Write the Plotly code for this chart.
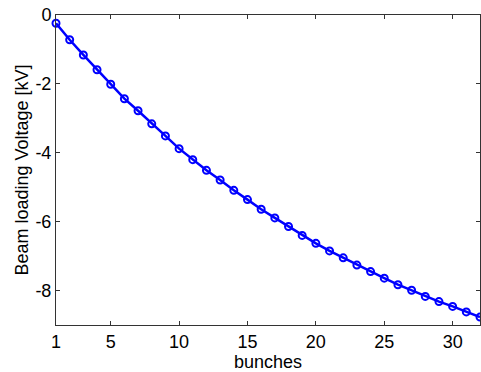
import plotly.graph_objects as go

# Beam loading voltage seen by each bunch in the train
bunches = list(range(1, 33))
voltage_kv = [-0.24, -0.72, -1.16, -1.59, -2.01, -2.43, -2.78, -3.16,
              -3.51, -3.88, -4.20, -4.51, -4.79, -5.09, -5.36, -5.64,
              -5.89, -6.14, -6.40, -6.63, -6.85, -7.05, -7.26, -7.45,
              -7.64, -7.83, -7.99, -8.17, -8.32, -8.46, -8.62, -8.77]

x_ticks = [1, 5, 10, 15, 20, 25, 30]
y_ticks = [0, -2, -4, -6, -8]
y_tick_labels = ["0", "-2", "-4", "-6", "-8"]

fig = go.Figure()
fig.add_trace(go.Scatter(
    x=bunches, y=voltage_kv, mode="lines+markers",
    line=dict(color="#0000ff", width=2.5),
    marker=dict(symbol="circle-open", size=7, color="#0000ff",
                line=dict(width=2, color="#0000ff")),
    cliponaxis=False, showlegend=False,
))

axis_common = dict(
    showgrid=False, zeroline=False, showline=True, mirror="ticks",
    linecolor="#333333", linewidth=1, ticks="inside", ticklen=4,
    tickcolor="#333333", tickfont=dict(size=18, color="#000000"),
)

fig.update_xaxes(range=[1, 32], tickvals=x_ticks,
                 title=dict(text="bunches", font=dict(size=18, color="#000000"), standoff=4),
                 **axis_common)
fig.update_yaxes(range=[-9, 0], tickvals=y_ticks, ticktext=y_tick_labels,
                 title=dict(text="Beam loading Voltage [kV]", font=dict(size=18, color="#000000"), standoff=2),
                 **axis_common)

fig.update_layout(
    width=481, height=372,
    margin=dict(l=56, r=1, t=15, b=47),
    plot_bgcolor="white", paper_bgcolor="white",
    font=dict(family="Liberation Sans, Arial, sans-serif"),
)

fig.write_html("out.html")
